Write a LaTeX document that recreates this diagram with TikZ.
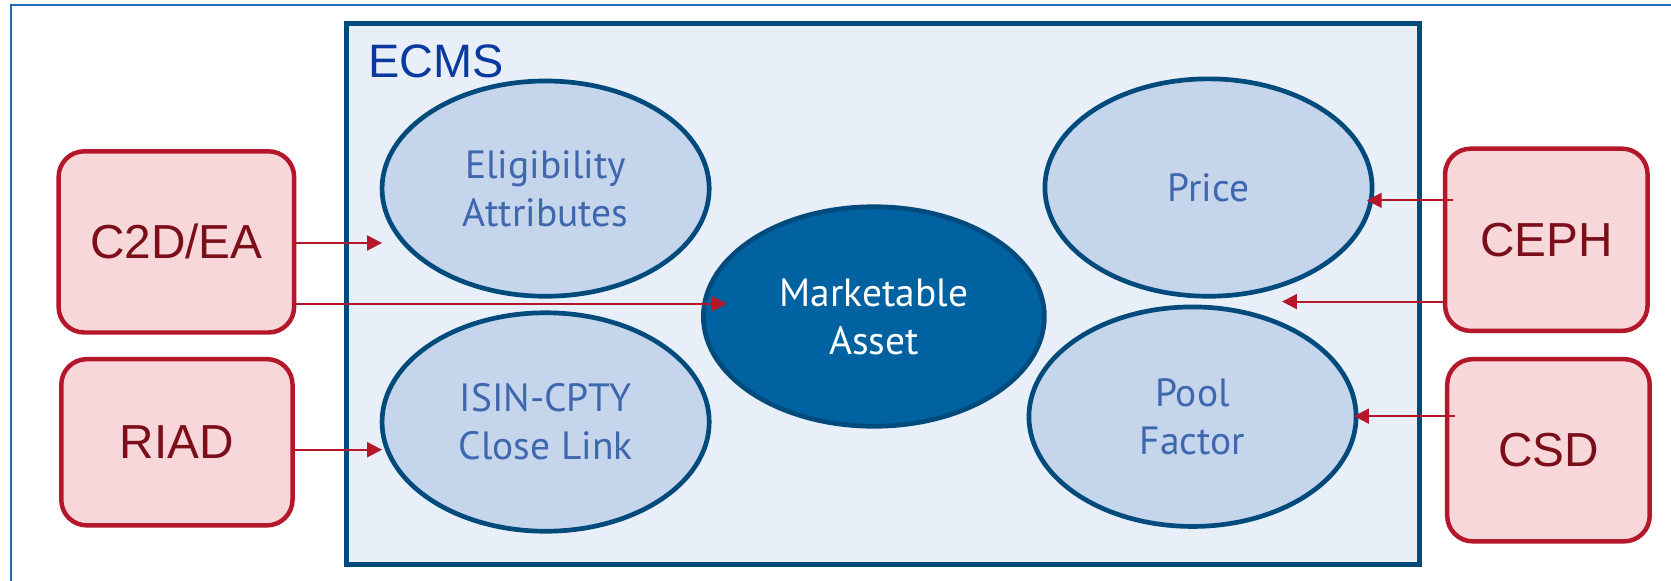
\documentclass[tikz,border=0pt]{standalone}
\usepackage{fontspec}
\setmainfont{PT Sans}
\newfontfamily\arialf{Liberation Sans}
\usetikzlibrary{shapes.geometric,arrows.meta,calc}
\definecolor{frameblue}{HTML}{1F6FB5}
\definecolor{ecmsfill}{HTML}{E8EFF8}
\definecolor{ecmsline}{HTML}{004A7C}
\definecolor{ecmstext}{HTML}{0A3A9F}
\definecolor{ellfill}{HTML}{C4D5EC}
\definecolor{elltext}{HTML}{3F67AE}
\definecolor{mafill}{HTML}{0062A1}
\definecolor{srcfill}{HTML}{F8D7DA}
\definecolor{srcline}{HTML}{B5172A}
\definecolor{srctext}{HTML}{7A0F1A}
\tikzset{
  ell/.style={ellipse, draw=ecmsline, line width=2.2pt, fill=ellfill, inner sep=0pt, outer sep=0pt,
    text=elltext, align=center, font=\fontsize{18.5}{22.5}\selectfont},
  src/.style={rectangle, rounded corners=12pt, draw=srcline, line width=2.1pt, fill=srcfill,
    inner sep=0pt, outer sep=0pt, text=srctext, font=\arialf\fontsize{22.4}{26}\selectfont},
  arr/.style={draw=srcline, line width=1pt, -{Triangle[length=7pt,width=7pt]}}
}
\begin{document}
\begin{tikzpicture}[x=0.5pt,y=-0.5pt]
\useasboundingbox (0,0) rectangle (1568,545);
\fill[white] (0,0) rectangle (1568,545);
\draw[frameblue, line width=0.8pt] (10,700) -- (10,5) -- (1700,5);
% ECMS container
\node[rectangle, draw=ecmsline, line width=2.4pt, fill=ecmsfill, inner sep=0pt, outer sep=0pt,
  minimum width=503.5pt, minimum height=254pt] (ecms) at (828.5,276) {};
\node[anchor=west, text=ecmstext, font=\arialf\fontsize{22}{26}\selectfont, inner sep=0pt] (ecmslabel) at (345,58) {ECMS};
% ellipses
\node[ell, minimum width=153.5pt, minimum height=101pt] (elig) at (512,177) {Eligibility\\Attributes};
\node[ell, minimum width=153.5pt, minimum height=102.5pt] (isin) at (512,396) {ISIN-CPTY\\Close Link};
\node[ell, minimum width=160pt, minimum height=103pt, fill=mafill, text=white] (ma) at (820,297) {Marketable\\Asset};
\node[ell, minimum width=153.5pt, minimum height=102pt] (price) at (1134,176) {Price};
\node[ell, minimum width=153.5pt, minimum height=103pt] (pool) at (1119,391) {Pool\\Factor};
% source boxes
\node[src, minimum width=110.5pt, minimum height=85pt] (c2d) at (165.5,227) {C2D/EA};
\node[src, minimum width=108.5pt, minimum height=78pt] (riad) at (166,415) {RIAD};
\node[src, minimum width=95pt, minimum height=85.5pt] (ceph) at (1451,225) {CEPH};
\node[src, minimum width=95pt, minimum height=85.5pt] (csd) at (1453,422.5) {CSD};
% connectors
\coordinate (matip) at (682,285);
\coordinate (cephfree) at (1203,283);
\draw[arr] (c2d.east |- 0,228) -- (elig.west |- 0,228);
\draw[arr] (c2d.east |- matip) -- (matip);
\draw[arr] (riad.east |- 0,422) -- (isin.west |- 0,422);
\draw[arr] ([xshift=3.5pt]ceph.west |- 0,188) -- ([xshift=-2.5pt]price.east |- 0,188);
\draw[arr] (ceph.west |- cephfree) -- (cephfree);
\draw[arr] ([xshift=3.5pt]csd.west |- 0,390.5) -- ([xshift=-1pt]pool.east |- 0,390.5);
\end{tikzpicture}
\end{document}
